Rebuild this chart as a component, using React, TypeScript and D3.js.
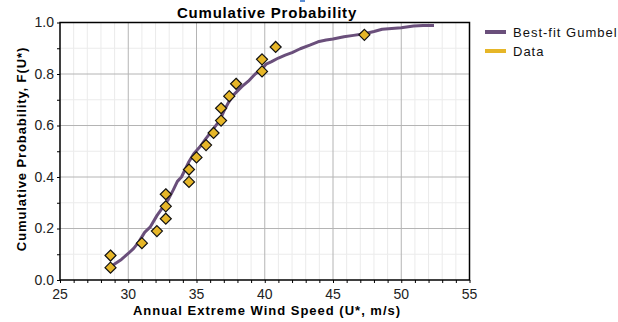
import * as d3 from 'd3';
import React, { useEffect } from 'react';

// observed annual extreme wind speeds (m/s) with plotting position i/(n+1)
const dataSpeed = [
  28.7, 28.7, 31.0, 32.1, 32.75, 32.75, 32.75, 34.45, 34.45, 35.0,
  35.7, 36.25, 36.8, 36.8, 37.4, 37.9, 39.8, 39.8, 40.8, 47.3,
];
const dataProb = [
  0.048, 0.095, 0.143, 0.19, 0.238, 0.286, 0.333, 0.381, 0.429, 0.476,
  0.524, 0.571, 0.619, 0.667, 0.714, 0.762, 0.81, 0.857, 0.905, 0.952,
];

// best-fit Gumbel curve
const fitSpeed = [
  28.75, 29.0, 29.5, 30.0, 30.4, 30.8, 31.2, 31.6, 32.1, 32.5,
  32.9, 33.3, 33.6, 33.9, 34.4, 34.8, 35.3, 35.7, 36.1, 36.7,
  37.0, 37.35, 37.7, 38.3, 38.8, 39.3, 39.7, 40.1, 40.5, 41.0,
  41.5, 42.0, 42.6, 43.3, 43.9, 44.5, 45.0, 45.8, 46.5, 47.3,
  48.0, 48.6, 49.3, 50.0, 50.9, 51.6, 52.4,
];
const fitProb = [
  0.052, 0.062, 0.08, 0.103, 0.123, 0.15, 0.185, 0.205, 0.25, 0.28,
  0.31, 0.35, 0.383, 0.4, 0.455, 0.49, 0.52, 0.55, 0.577, 0.62,
  0.655, 0.69, 0.718, 0.75, 0.772, 0.8, 0.815, 0.838, 0.848, 0.862,
  0.873, 0.883, 0.898, 0.912, 0.925, 0.932, 0.936, 0.945, 0.95, 0.956,
  0.965, 0.974, 0.977, 0.98, 0.986, 0.988, 0.988,
];

const xTicks = [25, 30, 35, 40, 45, 50, 55];
const yTicks = [0, 0.2, 0.4, 0.6, 0.8, 1.0];
const seriesNames = ['Best-fit Gumbel', 'Data'];

const PURPLE = '#6a4f7b';
const GOLD = '#e6b628';
const FONT = 'Arial, "Liberation Sans", sans-serif';

export default function App() {
  const ref = React.useRef<SVGSVGElement>(null);

  useEffect(() => {
    if (!ref.current) return;
    const svg = d3.select(ref.current);
    svg.selectAll('*').remove();

    const left = 60, right = 469.5, top = 22.5, bottom = 280;
    const x = d3.scaleLinear().domain([25, 55]).range([left, right]);
    const y = d3.scaleLinear().domain([0, 1]).range([bottom, top]);

    const g = svg.append('g');

    // minor grid
    g.selectAll('.vminor')
      .data(d3.range(26, 55, 1).filter(v => v % 5 !== 0))
      .enter()
      .append('line')
      .attr('x1', d => x(d)).attr('x2', d => x(d))
      .attr('y1', top).attr('y2', bottom)
      .attr('stroke', '#ebebeb').attr('stroke-width', 1);
    g.selectAll('.hminor')
      .data([0.1, 0.3, 0.5, 0.7, 0.9])
      .enter()
      .append('line')
      .attr('x1', left).attr('x2', right)
      .attr('y1', d => y(d)).attr('y2', d => y(d))
      .attr('stroke', '#ebebeb').attr('stroke-width', 1);

    // major grid
    g.selectAll('.vmajor')
      .data(xTicks.slice(1, -1))
      .enter()
      .append('line')
      .attr('x1', d => x(d)).attr('x2', d => x(d))
      .attr('y1', top).attr('y2', bottom)
      .attr('stroke', '#b4b4b4').attr('stroke-width', 1);
    g.selectAll('.hmajor')
      .data(yTicks.slice(1, -1))
      .enter()
      .append('line')
      .attr('x1', left).attr('x2', right)
      .attr('y1', d => y(d)).attr('y2', d => y(d))
      .attr('stroke', '#b4b4b4').attr('stroke-width', 1);

    // axes
    const xAxis = g.append('g')
      .attr('transform', `translate(0,${bottom})`)
      .call(d3.axisBottom(x).tickValues(d3.range(25, 56, 1)).tickSize(3).tickFormat(() => ''));
    xAxis.select('.domain').remove();
    xAxis.selectAll('line').attr('stroke', '#000');
    g.selectAll('.xlab')
      .data(xTicks)
      .enter()
      .append('text')
      .attr('x', d => x(d))
      .attr('y', 299)
      .attr('text-anchor', 'middle')
      .style('font', `14px ${FONT}`)
      .attr('fill', '#222')
      .text(d => d);

    const yAxis = g.append('g')
      .attr('transform', `translate(${left},0)`)
      .call(d3.axisLeft(y).tickValues(d3.range(0, 1.01, 0.1)).tickSize(3).tickFormat(() => ''));
    yAxis.select('.domain').remove();
    yAxis.selectAll('line').attr('stroke', '#000');
    g.selectAll('.ylab')
      .data(yTicks)
      .enter()
      .append('text')
      .attr('x', 54)
      .attr('y', d => y(d) + 4.5)
      .attr('text-anchor', 'end')
      .style('font', `14px ${FONT}`)
      .attr('fill', '#222')
      .text(d => d.toFixed(1));

    // frame
    g.append('rect')
      .attr('x', left).attr('y', top)
      .attr('width', right - left).attr('height', bottom - top)
      .attr('fill', 'none').attr('stroke', '#000').attr('stroke-width', 1.5);

    // fitted curve
    const line = d3.line<number>()
      .x(d => x(fitSpeed[d]))
      .y(d => y(fitProb[d]))
      .curve(d3.curveLinear);
    g.append('path')
      .attr('d', line(d3.range(fitSpeed.length)))
      .attr('fill', 'none')
      .attr('stroke', PURPLE)
      .attr('stroke-width', 3)
      .attr('stroke-linejoin', 'round');

    // data diamonds
    g.selectAll('.pt')
      .data(d3.range(dataSpeed.length))
      .enter()
      .append('path')
      .attr('d', 'M0,-5.5L5.5,0L0,5.5L-5.5,0Z')
      .attr('transform', d => `translate(${x(dataSpeed[d])},${y(dataProb[d])})`)
      .attr('fill', GOLD)
      .attr('stroke', '#111')
      .attr('stroke-width', 1.2);

    // titles
    svg.append('text')
      .attr('x', 267).attr('y', 18)
      .attr('text-anchor', 'middle')
      .style('font', `bold 15px ${FONT}`)
      .style('letter-spacing', '0.8px')
      .text('Cumulative Probability');
    svg.append('rect')
      .attr('x', 300).attr('y', 0).attr('width', 5).attr('height', 2)
      .attr('fill', '#5b8fd6');
    svg.append('text')
      .attr('x', 267).attr('y', 315)
      .attr('text-anchor', 'middle')
      .style('font', `bold 13px ${FONT}`)
      .style('letter-spacing', '1px')
      .text('Annual Extreme Wind Speed (U*, m/s)');
    svg.append('text')
      .attr('transform', 'translate(26,149) rotate(-90)')
      .attr('text-anchor', 'middle')
      .style('font', `bold 13px ${FONT}`)
      .style('letter-spacing', '0.9px')
      .text('Cumulative Probability, F(U*)');

    // legend
    const colors = [PURPLE, GOLD];
    const legend = svg.selectAll('.legend')
      .data(seriesNames)
      .enter()
      .append('g')
      .attr('transform', (d, i) => `translate(485,${32 + i * 19})`);
    legend.append('rect')
      .attr('x', 0).attr('y', -2)
      .attr('width', 21).attr('height', 4)
      .attr('fill', (d, i) => colors[i]);
    legend.append('text')
      .attr('x', 28).attr('y', 5)
      .style('font', `13px ${FONT}`)
      .style('letter-spacing', '1px')
      .attr('fill', '#111')
      .text(d => d);
  }, []);

  return (
    <svg
      ref={ref}
      width={618}
      height={322}
      style={{ position: 'absolute', left: 0, top: 0, background: '#fff' }}
    />
  );
}
